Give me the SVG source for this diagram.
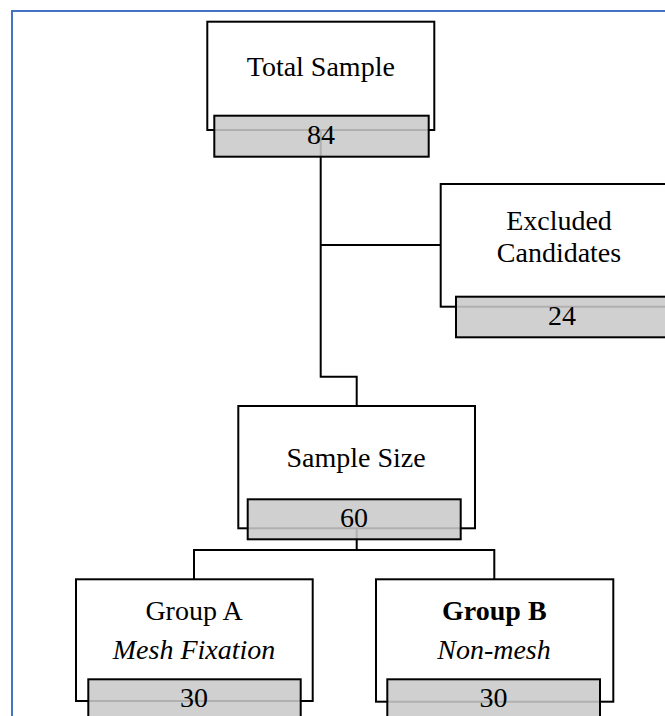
<svg xmlns="http://www.w3.org/2000/svg" width="665" height="716" viewBox="0 0 665 716">
  <style>
    .box { fill: #ffffff; stroke: #000000; stroke-width: 2; }
    .num { fill: #c9c9c9; fill-opacity: 0.875; stroke: #000000; stroke-width: 2; }
    .wire { fill: none; stroke: #000000; stroke-width: 2; }
    text { font-family: "Liberation Serif", "Times New Roman", serif; font-size: 28px; fill: #000000; text-anchor: middle; }
    .it { font-style: italic; }
    .bd { font-weight: bold; }
  </style>
  <rect x="12" y="11" width="700" height="720" fill="#ffffff" stroke="#4472C4" stroke-width="2"/>

  <g id="node-total-box"><rect class="box" x="207.3" y="21.7" width="227" height="108.3"/></g>
  <g id="node-excluded-box"><rect class="box" x="440.7" y="184" width="240" height="122.7"/></g>
  <g id="node-sample-box"><rect class="box" x="238.3" y="406" width="236.7" height="122.3"/></g>
  <g id="node-groupa-box"><rect class="box" x="76" y="579.3" width="236.7" height="121.7"/></g>
  <g id="node-groupb-box"><rect class="box" x="376" y="579.3" width="237.3" height="122.4"/></g>

  <g id="connectors">
    <path class="wire" d="M320.7 130 V376.7 H356.7 V406"/>
    <path class="wire" d="M320.7 245 H440.7"/>
    <path class="wire" d="M356.7 528.3 V550"/>
    <path class="wire" d="M194 579.3 V550 H494.3 V579.3"/>
  </g>

  <g id="node-total">
    <text x="320.8" y="76">Total Sample</text>
    <rect class="num" x="214.3" y="115.7" width="214.4" height="41"/>
    <text x="321" y="144">84</text>
  </g>
  <g id="node-excluded">
    <text x="559" y="229.5">Excluded</text>
    <text x="559" y="261.5">Candidates</text>
    <rect class="num" x="456" y="296.7" width="230" height="40.6"/>
    <text x="562" y="325">24</text>
  </g>
  <g id="node-sample">
    <text x="356" y="466.7">Sample Size</text>
    <rect class="num" x="247.7" y="499.3" width="213" height="40"/>
    <text x="354" y="526.7">60</text>
  </g>
  <g id="node-groupa">
    <text x="194" y="620">Group A</text>
    <text class="it" x="194" y="659">Mesh Fixation</text>
    <rect class="num" x="88.3" y="679.3" width="212.4" height="41"/>
    <text x="194" y="706.7">30</text>
  </g>
  <g id="node-groupb">
    <text class="bd" x="494.3" y="620">Group B</text>
    <text class="it" x="494" y="659">Non-mesh</text>
    <rect class="num" x="387.3" y="679.3" width="212.7" height="41"/>
    <text x="493.5" y="706.7">30</text>
  </g>
</svg>
